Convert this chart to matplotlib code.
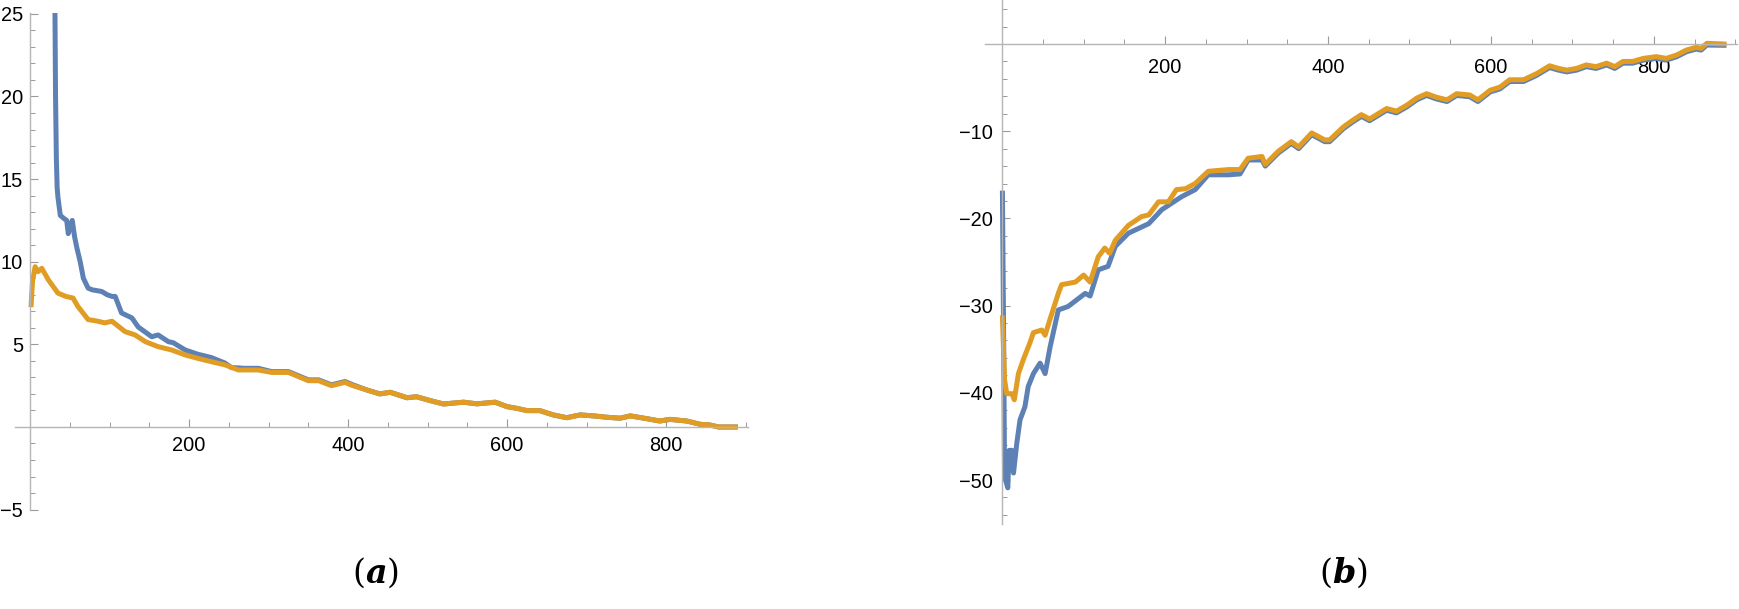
import matplotlib
matplotlib.use("Agg")
import matplotlib.pyplot as plt
from matplotlib.ticker import FixedLocator, MultipleLocator

plt.rcParams['font.family'] = ['Liberation Sans', 'DejaVu Sans']
plt.rcParams['mathtext.fontset'] = 'custom'
plt.rcParams['mathtext.rm'] = 'DejaVu Serif'
plt.rcParams['mathtext.it'] = 'DejaVu Serif:italic'
plt.rcParams['mathtext.bf'] = 'DejaVu Serif:bold:italic'

# ---------------- data: panel (a) ----------------
a_blue_x = [31, 32, 33, 34, 35, 38, 43, 46, 48, 51, 53, 56, 59, 63, 67, 73, 78, 90, 97, 103,
            107, 115, 128, 136, 153, 161, 174, 180, 195, 211, 228, 245, 253, 270, 287, 304,
            325, 350, 363, 379, 396, 406, 423.5, 440, 453, 474, 486, 503, 520, 545, 562, 585,
            600, 612, 625, 641, 658, 675, 692, 709, 725, 742, 755, 776, 792, 805, 826, 843,
            855, 866, 887]
a_blue_y = [27, 20, 16.3, 14.5, 13.9, 12.8, 12.6, 12.5, 11.7, 12.2, 12.5, 11.5, 10.8, 10.0,
            9.0, 8.4, 8.3, 8.2, 8.0, 7.9, 7.9, 6.9, 6.6, 6.05, 5.46, 5.57, 5.16, 5.1, 4.66,
            4.4, 4.2, 3.87, 3.6, 3.55, 3.55, 3.35, 3.35, 2.85, 2.85, 2.55, 2.75, 2.55, 2.24,
            2.0, 2.1, 1.77, 1.83, 1.6, 1.39, 1.5, 1.4, 1.5, 1.23, 1.13, 0.99, 0.99, 0.73,
            0.56, 0.73, 0.67, 0.59, 0.53, 0.67, 0.5, 0.36, 0.46, 0.36, 0.16, 0.12, 0.0, 0.0]

a_orange_x = [1.3, 3, 6.3, 10, 14.7, 23, 35, 45, 54, 60, 73, 85, 94, 103, 119.5, 132, 145,
              161, 178, 195, 211, 228, 245, 262, 287, 304, 325, 350, 363, 379, 396, 406,
              423.5, 440, 453, 474, 486, 503, 520, 545, 562, 585, 600, 612, 625, 641, 658,
              675, 692, 709, 725, 742, 755, 776, 792, 805, 826, 843, 855, 866, 887]
a_orange_y = [7.4, 8.8, 9.7, 9.4, 9.6, 8.9, 8.1, 7.9, 7.8, 7.3, 6.5, 6.4, 6.3, 6.4, 5.77,
              5.57, 5.16, 4.86, 4.66, 4.36, 4.15, 3.95, 3.76, 3.45, 3.45, 3.3, 3.3, 2.8, 2.8,
              2.5, 2.7, 2.5, 2.24, 2.0, 2.1, 1.77, 1.83, 1.6, 1.39, 1.5, 1.4, 1.5, 1.23, 1.13,
              0.99, 0.99, 0.73, 0.56, 0.73, 0.67, 0.59, 0.53, 0.67, 0.5, 0.36, 0.46, 0.36,
              0.16, 0.12, 0.0, 0.0]

# ---------------- data: panel (b) ----------------
b_blue_x = [0.4, 2, 3, 7, 8.6, 12, 14, 18, 22, 28, 32, 38.4, 46.6, 52.8, 59, 69, 81, 102, 108,
            118, 130, 139, 155, 180, 196, 220.5, 237, 253, 278, 292, 302, 319, 323, 339, 355,
            364, 380, 396, 402, 419, 431, 441, 451, 472, 484, 497, 509, 521, 533, 546, 558,
            574, 584, 599, 611, 623, 640, 648, 656, 672, 683, 693, 705, 717, 729, 742, 752,
            762, 774, 787, 803, 815, 828, 840, 852, 858, 865, 886]
b_blue_y = [-17.1, -35, -49.6, -50.9, -46.6, -46.6, -49.2, -45.8, -43.1, -41.6, -39.3, -37.8,
            -36.6, -37.8, -34.7, -30.5, -30.1, -28.6, -28.9, -25.9, -25.5, -23.2, -21.7,
            -20.6, -19.0, -17.5, -16.7, -15.0, -15.0, -14.9, -13.3, -13.3, -14.0, -12.5,
            -11.4, -12.0, -10.4, -11.2, -11.2, -9.7, -8.9, -8.3, -8.8, -7.6, -7.9, -7.2,
            -6.4, -5.9, -6.3, -6.6, -5.9, -6.05, -6.6, -5.5, -5.15, -4.3, -4.3, -3.95, -3.6,
            -2.7, -3.0, -3.2, -3.0, -2.6, -2.8, -2.4, -2.8, -2.2, -2.2, -1.85, -1.65, -1.85,
            -1.46, -0.89, -0.58, -0.7, -0.12, -0.15]

b_orange_x = [0.4, 3, 5.7, 12, 15, 20, 26, 34, 38.4, 48.7, 52.8, 59, 69, 73, 90, 100, 108, 118,
              126, 132, 139, 155, 171, 180, 192, 204, 214, 225, 237, 253, 278, 292, 302, 319,
              323, 339, 355, 364, 380, 396, 402, 419, 431, 441, 451, 472, 484, 497, 509, 521,
              533, 546, 558, 574, 584, 599, 611, 623, 640, 648, 656, 672, 683, 693, 705, 717,
              729, 742, 752, 762, 774, 787, 803, 815, 828, 840, 852, 858, 865, 886]
b_orange_y = [-31.4, -38.5, -40.1, -40.1, -40.8, -37.8, -36.2, -34.3, -33.1, -32.8, -33.4,
              -31.5, -28.6, -27.6, -27.3, -26.5, -27.3, -24.4, -23.4, -24.0, -22.5, -20.8,
              -19.8, -19.6, -18.1, -18.1, -16.7, -16.6, -16.0, -14.6, -14.4, -14.4, -13.1,
              -12.9, -13.8, -12.3, -11.2, -11.8, -10.2, -11.0, -11.0, -9.5, -8.7, -8.1, -8.6,
              -7.4, -7.7, -7.0, -6.2, -5.7, -6.1, -6.4, -5.7, -5.85, -6.4, -5.3, -4.95, -4.1,
              -4.1, -3.75, -3.4, -2.5, -2.8, -3.0, -2.8, -2.4, -2.6, -2.2, -2.6, -2.0, -2.0,
              -1.65, -1.45, -1.65, -1.26, -0.69, -0.38, -0.5, 0.08, 0.0]

a_xticks = [200, 400, 600, 800]
a_yticks = [-5, 5, 10, 15, 20, 25]
b_xticks = [200, 400, 600, 800]
b_yticks = [-50, -40, -30, -20, -10]
panel_labels = [r'$(\mathbf{a})$', r'$(\mathbf{b})$']

BLUE = '#5E81B5'
ORANGE = '#E19C24'
AXCOL = '#b5b5b5'
TICKCOL = '#9a9a9a'

W, H = 1740, 609
fig = plt.figure(figsize=(W / 100, H / 100), dpi=100)


def style(ax, xpad, ypad, xmaj, ymaj, xmin_step, ymin_step):
    for s in ['top', 'right']:
        ax.spines[s].set_visible(False)
    ax.spines['left'].set_position(('data', 0))
    ax.spines['bottom'].set_position(('data', 0))
    for s in ['left', 'bottom']:
        ax.spines[s].set_color(AXCOL)
        ax.spines[s].set_linewidth(1.0)
    ax.xaxis.set_major_locator(FixedLocator(xmaj))
    ax.yaxis.set_major_locator(FixedLocator(ymaj))
    ax.xaxis.set_minor_locator(MultipleLocator(xmin_step))
    ax.yaxis.set_minor_locator(MultipleLocator(ymin_step))
    ax.tick_params(axis='both', which='major', direction='in', length=5.8, width=0.8,
                   color=TICKCOL, labelsize=14.4, labelcolor='black')
    ax.tick_params(axis='both', which='minor', direction='in', length=3.6, width=0.7,
                   color=TICKCOL)
    ax.tick_params(axis='x', which='major', pad=xpad)
    ax.tick_params(axis='y', which='major', pad=ypad)
    ax.set_facecolor('none')


# panel (a)
axA = fig.add_axes([15 / W, (H - 509.6) / H, (748 - 15) / W, (509.6 - 13) / H])
axA.plot(a_blue_x, a_blue_y, color=BLUE, lw=3.6, solid_joinstyle='round')
axA.plot(a_orange_x, a_orange_y, color=ORANGE, lw=3.6, solid_joinstyle='round')
axA.set_xlim(-19, 903)
axA.set_ylim(-5, 25.05)
style(axA, 6.5, 5.0, a_xticks, a_yticks, 50, 1)

# panel (b)
axB = fig.add_axes([985 / W, (H - 523.6) / H, (1737 - 985) / W, 523.2 / H])
axB.plot(b_blue_x, b_blue_y, color=BLUE, lw=3.6, solid_joinstyle='round')
axB.plot(b_orange_x, b_orange_y, color=ORANGE, lw=3.6, solid_joinstyle='round')
axB.set_xlim(-21, 902)
axB.set_ylim(-55, 5)
style(axB, 10.0, 6.5, b_xticks, b_yticks, 50, 2)

fig.text(375 / W, 1 - 573 / H, panel_labels[0], fontsize=24, ha='center', va='center')
fig.text(1343 / W, 1 - 573 / H, panel_labels[1], fontsize=24, ha='center', va='center')

fig.savefig('out.png', dpi=100)
